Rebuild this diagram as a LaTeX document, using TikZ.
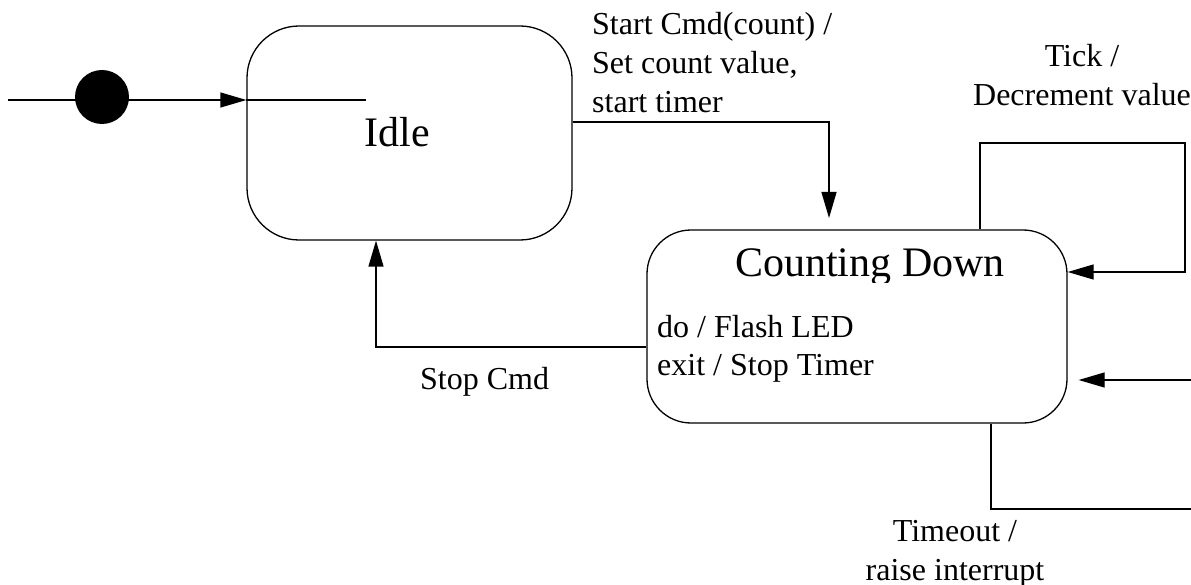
\documentclass[tikz,border=0pt]{standalone}
\usepackage{fontspec}
\setmainfont{Liberation Serif}
\usetikzlibrary{arrows.meta}
\newcommand\smallfnt{\fontsize{32}{39}\selectfont}
\newcommand\bigfnt{\fontsize{42}{48}\selectfont}
\tikzset{
  line/.style={line width=1.3pt, draw=black},
  arr/.style={line, -{Triangle[length=26pt,width=15pt]}},
  statebox/.style={line, rectangle, inner sep=0pt},
  txt/.style={inner sep=0pt, font=\smallfnt},
}
\begin{document}
\begin{tikzpicture}[x=1pt, y=-1pt]
  \useasboundingbox (0,0) rectangle (1191,585);

  % states
  \node[statebox, rounded corners=52pt, minimum width=325pt, minimum height=214pt]
    (idle) at (409.5,133) {};
  \node[statebox, rounded corners=44pt, minimum width=420pt, minimum height=193pt]
    (count) at (857,326.5) {};

  \node[inner sep=0pt, font=\bigfnt, anchor=base] (idletxt) at (397,147) {Idle};
  \begin{scope}
    \clip (647,230) rectangle (1067,283);
    \node[inner sep=0pt, font=\bigfnt, anchor=base] (counttxt) at (870,277) {Counting Down};
  \end{scope}
  \node[txt, anchor=base west] (activities) at (657,337)
    {\begin{tabular}[t]{@{}l@{}}do / Flash LED\\ exit / Stop Timer\end{tabular}};

  % initial pseudo-state
  \coordinate (lstart) at (8,100);
  \coordinate (ltail) at (366,100);
  \draw[arr] (lstart) -- (lstart -| idle.west);
  \draw[line] (lstart -| idle.west) -- (ltail);
  \node[circle, fill=black, minimum size=54pt, inner sep=0pt] (init) at (102,97) {};

  % Idle -> Counting Down
  \draw[arr] (idle.east |- 0,122) -| (829,218);
  \node[txt, anchor=base west] (startlbl) at (592,35)
    {\begin{tabular}[t]{@{}l@{}}Start Cmd(count) /\\ Set count value,\\ start timer\end{tabular}};

  % Counting Down -> Idle
  \draw[arr] (count.west |- 0,347) -| (idle.south -| 376,0);
  \node[txt, anchor=base west] (stoplbl) at (420,389) {Stop Cmd};

  % self transition on tick
  \draw[arr] (count.north -| 980,0) |- (1185,143) |- (count.east |- 0,272);
  \node[txt, anchor=base] (ticklbl) at (1082,67)
    {\begin{tabular}[t]{@{}c@{}}Tick /\\ Decrement value\end{tabular}};

  % timeout loop entering from the right
  \coordinate (inR) at (1191,380);
  \coordinate (outR) at (1191,509);
  \draw[arr] (inR) -- ([xshift=11pt]count.east |- inR);
  \draw[line] (count.south -| 991,0) |- (outR);
  \node[txt, anchor=base] (timeoutlbl) at (955,541)
    {\begin{tabular}[t]{@{}c@{}}Timeout /\\ raise interrupt\end{tabular}};
\end{tikzpicture}
\end{document}
